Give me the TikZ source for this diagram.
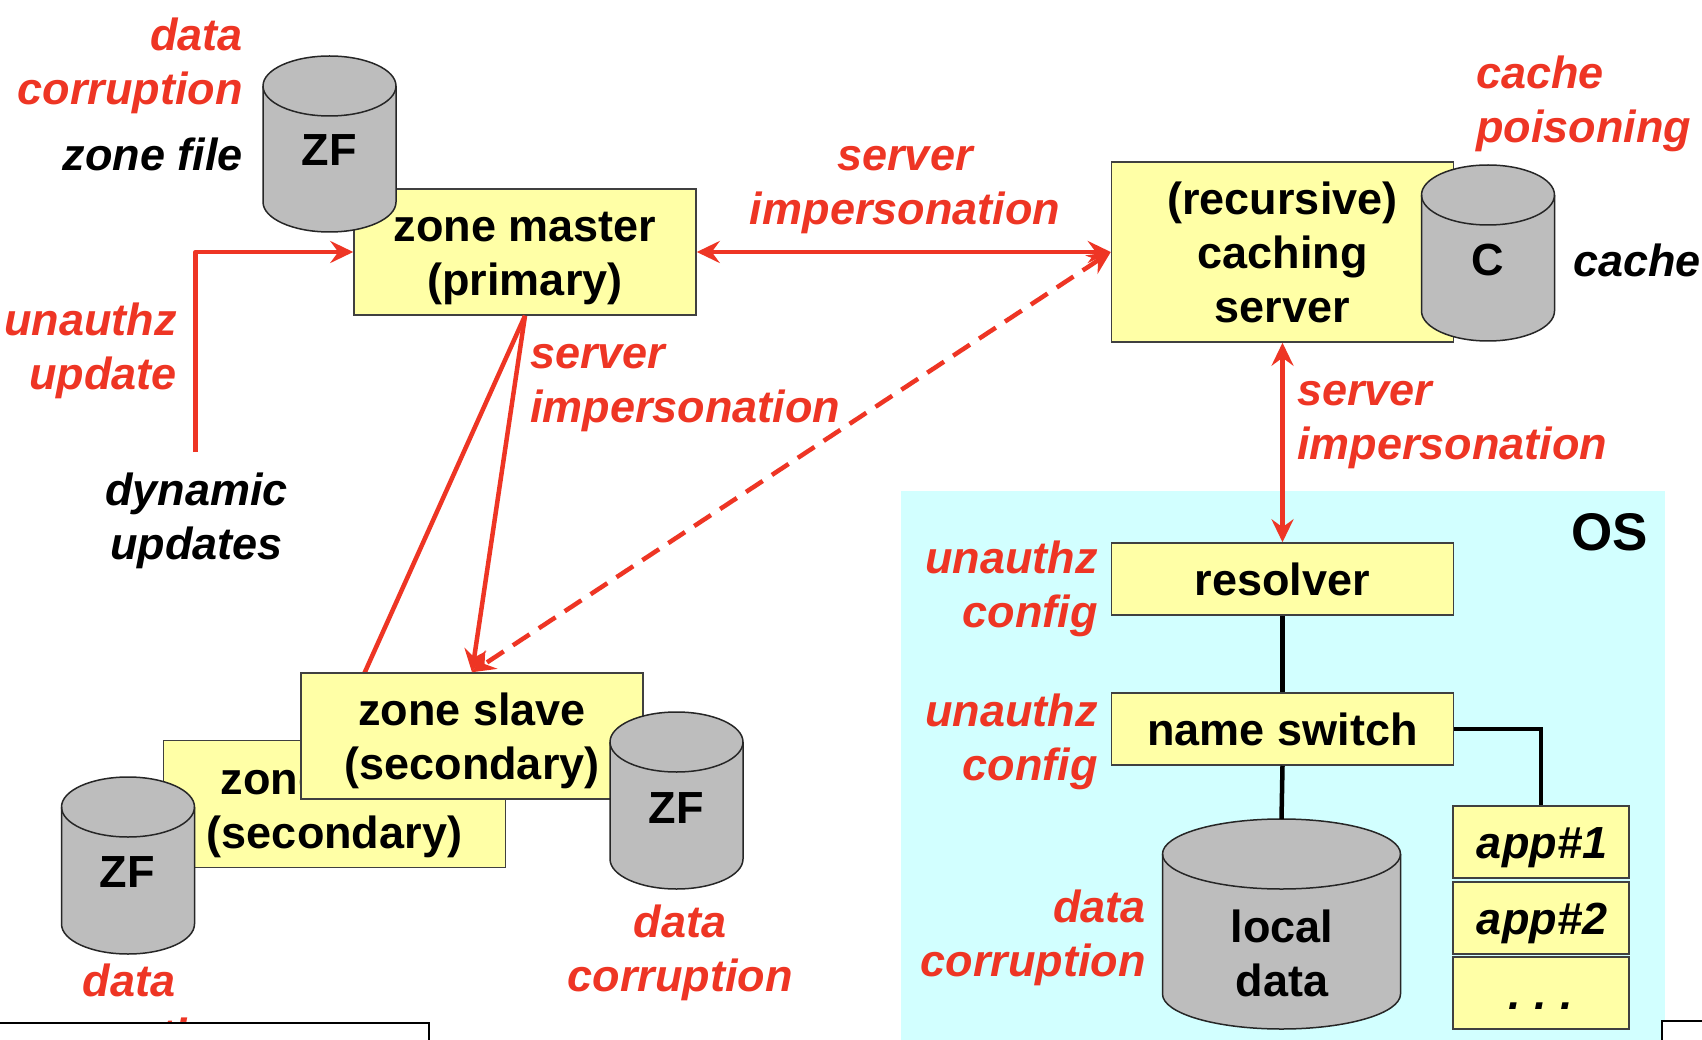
\documentclass[tikz,border=0pt]{standalone}
\usepackage{fontspec}
\setmainfont{Liberation Sans}
\usetikzlibrary{arrows.meta}
\definecolor{attack}{RGB}{238,53,36}
\definecolor{boxyellow}{RGB}{255,255,166}
\definecolor{oscyan}{RGB}{210,255,255}
\definecolor{cylgray}{RGB}{189,189,189}
\tikzset{
  boxnode/.style={draw=black!75,line width=1.5pt,fill=boxyellow,inner sep=0pt,align=center,
    font=\fontsize{45}{54}\selectfont\bfseries,text=black},
  cyltext/.style={inner sep=0pt,align=center,font=\fontsize{45}{54}\selectfont\bfseries,text=black},
  redlab/.style={inner sep=0pt,text=attack,font=\fontsize{45}{54}\selectfont\bfseries\itshape},
  blacklab/.style={inner sep=0pt,text=black,font=\fontsize{45}{54}\selectfont\bfseries\itshape},
  appbox/.style={boxnode,minimum width=176,minimum height=72},
  redline/.style={draw=attack,line width=4.5pt,line join=round},
  blackline/.style={draw=black,line width=4.5pt},
  tip/.style={-{Stealth[length=23pt,width=22pt,inset=8pt]}},
  tiptwo/.style={{Stealth[length=23pt,width=22pt,inset=8pt]}-{Stealth[length=23pt,width=22pt,inset=8pt]}},
  bodyfill/.style={fill=cylgray,draw=black!85,line width=1.5pt},
  edgebox/.style={fill=white,draw=black,line width=1.5pt}
}
% name, centre x, top y, bottom y, x radius, y radius
\newcommand\cylinderdraw[6]{%
  \filldraw[bodyfill] ({#2-#5},{#3+#6}) -- ({#2-#5},{#4-#6})
    arc[start angle=180,end angle=360,x radius=#5pt,y radius=#6pt]
    -- ({#2+#5},{#3+#6})
    arc[start angle=0,end angle=180,x radius=#5pt,y radius=#6pt] -- cycle;
  \draw[bodyfill,fill=none] ({#2-#5},{#3+#6})
    arc[start angle=180,end angle=360,x radius=#5pt,y radius=#6pt];
  \coordinate (#1) at (#2,#3);
}
\begin{document}
\begin{tikzpicture}[x=1pt,y=-1pt]
\useasboundingbox (0,0) rectangle (1702,1040);
\fill[white] (0,0) rectangle (1702,1040);
\fill[oscyan] (901,491) rectangle (1665,1040);

% boxes
\node[boxnode,minimum width=342,minimum height=126] (master) at (525,252) {};
\node[cyltext] (mastertext) at (525,258) {zone master\\(primary)};
\node[boxnode,minimum width=342,minimum height=180] (caching) at (1282.5,252) {(recursive)\\caching\\server};
\node[boxnode,minimum width=342,minimum height=127] (back) at (334.5,804) {};
\draw[redline] (master.south) -- (back.north);
\node[cyltext] (backtext) at (334.5,809.5) {zone slave\\(secondary)};
\node[boxnode,minimum width=342,minimum height=126] (slave) at (472,736) {};
\node[cyltext] (slavetext) at (472,741) {zone slave\\(secondary)};
\node[boxnode,minimum width=342,minimum height=72] (resolver) at (1282.5,579) {resolver};
\node[boxnode,minimum width=342,minimum height=72] (nameswitch) at (1282.5,729) {name switch};
\node[appbox] (appa) at (1541,842) {};
\node[blacklab] (appatext) at (1542,848) {app\#1};
\node[appbox] (appb) at (1541,918) {};
\node[blacklab] (appbtext) at (1542,923.5) {app\#2};
\node[appbox] (appc) at (1541,993) {};
\node[blacklab] (appctext) at (1541,1006) {.\hspace{0.3em}.\hspace{0.3em}.};

% cylinders
\cylinderdraw{zfa}{329.5}{56}{232}{66.5}{30}
\node[cyltext] (zfatext) at (329,150) {ZF};
\cylinderdraw{cachecyl}{1488}{165}{341}{66.5}{30}
\node[cyltext] (ctext) at (1488,260) {C};
\cylinderdraw{zfb}{128}{777}{954}{66.5}{30}
\node[cyltext] (zfbtext) at (127,872) {ZF};
\cylinderdraw{zfc}{676.5}{712}{889}{66.5}{30}
\node[cyltext] (zfctext) at (676,808) {ZF};
\cylinderdraw{localcyl}{1281.5}{819}{1029}{119}{35}
\node[cyltext] (localtext) at (1282,953) {local\\data};

% labels
\node[redlab,align=right,anchor=east] (la) at (243,66) {data\\corruption};
\node[blacklab,anchor=east] (lb) at (243,154) {zone file};
\node[redlab,align=left,anchor=west] (lc) at (1476,103.5) {cache\\poisoning};
\node[blacklab,anchor=west] (ld) at (1573,260) {cache};
\node[redlab,align=center] (le) at (905,190) {server\\impersonation};
\node[redlab,align=right,anchor=east] (lf) at (177,351) {unauthz\\update};
\node[redlab,align=left,anchor=west] (lg) at (530,388) {server\\impersonation};
\node[blacklab,align=center] (dyn) at (196.5,520.5) {dynamic\\updates};
\node[redlab,align=left,anchor=west] (lh) at (1297,425.5) {server\\impersonation};
\node[inner sep=0pt,anchor=east,font=\fontsize{53}{60}\selectfont\bfseries] (os) at (1648,532) {OS};
\node[redlab,align=right,anchor=east] (li) at (1098,589) {unauthz\\config};
\node[redlab,align=right,anchor=east] (lj) at (1098,742) {unauthz\\config};
\node[redlab,align=right,anchor=east] (lk) at (1146,937.5) {data\\corruption};
\node[redlab,align=center] (ll) at (680,953) {data\\corruption};
\node[redlab,align=center] (lm) at (129,1012) {data\\corruption};

% connectors
\coordinate (dynend) at (195.5,452);
\draw[redline,tip] (dynend) -- (dynend |- master.west) -- (master.west);
\draw[redline,tiptwo] (master.east) -- (caching.west);
\draw[redline,tip] (master.south) -- (slave.north);
\draw[redline,tiptwo,dash pattern=on 20pt off 11pt] (caching.west) -- (slave.north);
\draw[redline,tiptwo] (caching.south) -- (resolver.north);
\draw[blackline] (resolver.south) -- (nameswitch.north);
\draw[blackline] (nameswitch.south) -- (localcyl);
\draw[blackline] (nameswitch.east) -- (appa.north |- nameswitch.east) -- (appa.north);

% boxes cut off by the page edge
\filldraw[edgebox] (-5,1023) rectangle (429,1046);
\filldraw[edgebox] (1662,1021) rectangle (1710,1046);
\end{tikzpicture}
\end{document}
